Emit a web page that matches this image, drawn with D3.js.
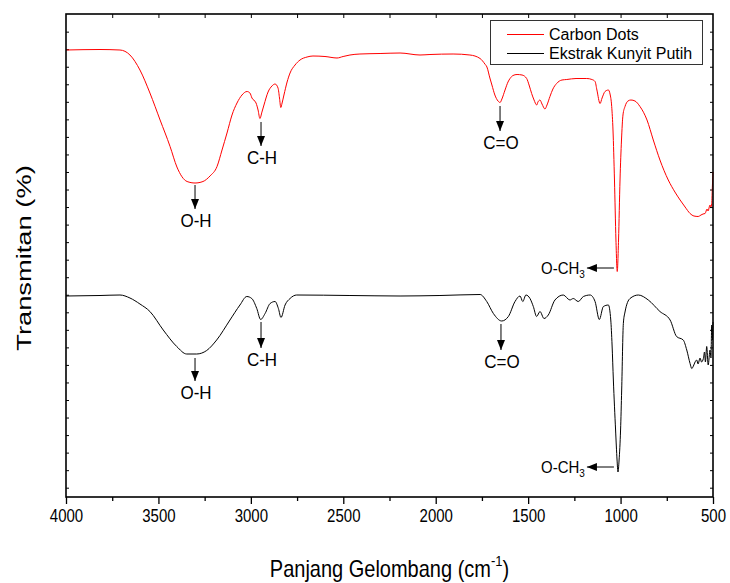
<!DOCTYPE html>
<html>
<head>
<meta charset="utf-8">
<script src="https://cdn.jsdelivr.net/npm/d3@7"></script>
<style>
  body { margin: 0; background: #fff; }
  text { font-family: Arial, "Liberation Sans", sans-serif; }
</style>
</head>
<body>
<div id="canvas"></div>
<script>
"use strict"

/* wavenumber (cm-1) of each sample, and transmittance (a.u., no scale printed) */
let carbonWave = [4000, 3816, 3708, 3654, 3600, 3546, 3491, 3437, 3400, 3345, 3302, 3259, 3221, 3183, 3156, 3129, 3102, 3075, 3048, 3021, 3005, 2994, 2972, 2961, 2951, 2940, 2929, 2907, 2886, 2869, 2853, 2845, 2838, 2831, 2821, 2804, 2788, 2761, 2734, 2696, 2664, 2599, 2534, 2501, 2464, 2410, 2301, 2193, 2085, 2031, 1906, 1815, 1760, 1734, 1723, 1707, 1696, 1680, 1663, 1652, 1642, 1625, 1609, 1598, 1582, 1560, 1533, 1508, 1495, 1481, 1468, 1454, 1447, 1436, 1425, 1409, 1398, 1382, 1366, 1346, 1317, 1291, 1241, 1183, 1155, 1138, 1128, 1111, 1100, 1084, 1066, 1057, 1048, 1041, 1033, 1025, 1018, 1011, 1003, 995, 987, 976, 960, 944, 922, 895, 857, 823, 787, 742, 706, 678, 651, 624, 603, 580, 565, 554, 543, 532, 527, 516, 511, 507, 503, 500];
let carbonT = [89.4, 89.5, 89.4, 88.4, 85.4, 80.8, 75.4, 70.1, 66.0, 63.1, 62.8, 63.1, 64.2, 66.1, 69.4, 72.8, 76.4, 78.8, 80.4, 81.1, 80.8, 79.8, 78.8, 77.4, 75.7, 77.0, 78.4, 81.0, 82.2, 82.6, 81.8, 79.8, 77.9, 78.8, 80.4, 83.0, 84.8, 86.4, 87.4, 88.0, 88.2, 88.1, 87.8, 88.1, 88.4, 88.6, 88.7, 88.8, 88.4, 88.5, 88.6, 88.4, 87.7, 86.6, 86.0, 83.8, 82.4, 80.4, 79.2, 78.9, 79.6, 81.4, 83.0, 83.7, 84.3, 84.5, 84.4, 83.7, 82.4, 80.7, 79.4, 78.4, 79.0, 79.4, 78.6, 77.6, 78.4, 80.1, 81.6, 82.7, 83.4, 83.5, 83.7, 83.7, 83.5, 83.1, 81.4, 78.7, 79.8, 81.1, 81.4, 80.6, 78.1, 73.4, 63.4, 51.4, 45.1, 51.4, 63.4, 71.4, 76.4, 78.1, 79.2, 79.4, 79.2, 78.1, 75.4, 71.4, 67.4, 63.4, 61.0, 59.4, 58.0, 56.7, 56.2, 56.1, 56.4, 56.6, 56.7, 57.6, 57.2, 58.4, 58.0, 58.7, 62.4, 65.0];

let ekstrakWave = [4000, 3816, 3708, 3654, 3600, 3546, 3474, 3401, 3347, 3293, 3239, 3185, 3113, 3059, 3022, 2995, 2968, 2947, 2923, 2896, 2869, 2851, 2837, 2815, 2788, 2752, 2464, 2193, 1977, 1760, 1724, 1688, 1643, 1607, 1571, 1544, 1529, 1512, 1490, 1472, 1454, 1436, 1414, 1391, 1355, 1310, 1274, 1256, 1229, 1201, 1165, 1138, 1115, 1093, 1066, 1053, 1046, 1039, 1027, 1019, 1014, 1008, 1000, 994, 985, 976, 949, 904, 850, 787, 732, 697, 661, 642, 624, 615, 606, 597, 588, 581, 570, 562, 552, 546, 541, 534, 526, 516, 511, 507, 503, 500];
let ekstrakT = [40.2, 40.3, 40.4, 39.8, 38.6, 37.1, 33.4, 30.1, 28.6, 28.6, 29.3, 31.4, 35.4, 38.4, 40.1, 39.7, 37.7, 35.5, 36.7, 38.7, 39.1, 37.7, 35.9, 38.4, 39.7, 40.4, 40.3, 40.2, 40.3, 40.5, 39.1, 36.7, 35.2, 36.1, 39.1, 40.2, 39.1, 40.4, 39.7, 38.1, 36.1, 37.1, 35.7, 36.4, 39.4, 40.4, 39.4, 39.7, 39.1, 40.1, 40.4, 39.1, 35.5, 38.1, 38.4, 35.4, 30.4, 23.4, 13.4, 7.4, 5.0, 7.4, 13.4, 21.4, 34.7, 37.0, 39.7, 40.4, 39.4, 37.1, 35.4, 32.1, 31.4, 29.4, 26.7, 25.7, 26.2, 27.0, 27.4, 26.6, 27.8, 27.0, 27.7, 29.0, 27.0, 30.1, 26.4, 29.4, 27.8, 34.4, 31.4, 35.0];

let xTickLabels = [4000, 3500, 3000, 2500, 2000, 1500, 1000, 500];
let seriesNames = ["Carbon Dots", "Ekstrak Kunyit Putih"];

/* band labels: vertical arrows (wave, from, to) and the O-CH3 arrows (from wave to wave) */
let bandNames = ["O-H", "C-H", "C=O"];
let bandWave = [[3302, 2945, 1652], [3302, 2945, 1647]];
let bandFrom = [[62.4, 75.0, 78.2], [27.8, 35.0, 34.6]];
let bandTo = [[57.6, 70.2, 73.2], [23.2, 29.8, 29.4]];
let methoxyLevel = [45.8, 6.0];
let methoxyWave = [1036, 1182];

let width = 730, height = 583;
let plotLeft = 66, plotRight = 713, plotTop = 14, plotBottom = 497;
let stretch = 1.17;   // the lettering in the original is a bit taller than it is wide

let drawing = d3.select("#canvas")
    .append("svg")
    .attr("width", width)
    .attr("height", height);

let xScale = d3.scaleLinear().domain([4000, 500]).range([plotLeft, plotRight]);
let yScale = d3.scaleLinear().domain([0, 96.6]).range([plotBottom, plotTop]);

/* arrow head */
drawing.append("defs").append("marker")
    .attr("id", "head")
    .attr("viewBox", "0 0 10 8")
    .attr("refX", 10)
    .attr("refY", 4)
    .attr("markerWidth", 10)
    .attr("markerHeight", 8)
    .attr("markerUnits", "userSpaceOnUse")
    .attr("orient", "auto")
    .append("path")
    .attr("d", "M0,0 L10,4 L0,8 Z")
    .attr("fill", "black");

/* y ticks have no labels, just inward marks on both sides */
let yTicks = d3.range(27).map(i => 1.86 + 3.508 * i);

drawing.append("g")
    .attr("transform", `translate(${plotLeft},0)`)
    .call(d3.axisRight(yScale).tickValues(yTicks).tickSize(3).tickFormat(""))
    .call(g => g.select(".domain").remove());

drawing.append("g")
    .attr("transform", `translate(${plotRight},0)`)
    .call(d3.axisLeft(yScale).tickValues(yTicks).tickSize(3).tickFormat(""))
    .call(g => g.select(".domain").remove());

/* top axis: inward ticks every 250 */
drawing.append("g")
    .attr("transform", `translate(0,${plotTop})`)
    .call(d3.axisBottom(xScale).tickValues(d3.range(3750, 500, -250)).tickSize(4).tickFormat(""))
    .call(g => g.select(".domain").remove());

/* bottom axis */
let xAxis = drawing.append("g")
    .attr("transform", `translate(0,${plotBottom})`)
    .call(d3.axisBottom(xScale).tickValues(xTickLabels).tickSize(7).tickFormat(d3.format("d")));
xAxis.select(".domain").remove();
xAxis.selectAll("text")
    .attr("y", 0)
    .attr("dy", "0.71em")
    .attr("transform", `translate(0,13) scale(1,${stretch})`)
    .attr("font-size", "15px")
    .attr("font-family", "Arial, 'Liberation Sans', sans-serif")
    .attr("fill", "black");
xAxis.selectAll("line").attr("stroke-width", 1.3);

drawing.append("g")
    .attr("transform", `translate(0,${plotBottom})`)
    .call(d3.axisBottom(xScale).tickValues(d3.range(3750, 500, -500)).tickSize(4).tickFormat(""))
    .call(g => g.select(".domain").remove())
    .selectAll("line").attr("stroke-width", 1.3);

/* the spectra */
let line = d3.line()
    .x(d => xScale(d[0]))
    .y(d => yScale(d[1]))
    .curve(d3.curveMonotoneX);

let carbonSpectrum = drawing.append("path")
    .datum(d3.zip(carbonWave, carbonT))
    .attr("d", line)
    .attr("fill", "none")
    .attr("stroke", "#ff0000")
    .attr("stroke-width", 1);

let ekstrakSpectrum = drawing.append("path")
    .datum(d3.zip(ekstrakWave, ekstrakT))
    .attr("d", line)
    .attr("fill", "none")
    .attr("stroke", "black")
    .attr("stroke-width", 1);

/* frame */
drawing.append("rect")
    .attr("x", plotLeft)
    .attr("y", plotTop)
    .attr("width", plotRight - plotLeft)
    .attr("height", plotBottom - plotTop)
    .attr("fill", "none")
    .attr("stroke", "black")
    .attr("stroke-width", 1.6);

/* band annotations */
bandWave.forEach((waves, s) => {
    waves.forEach((w, i) => {
        drawing.append("line")
            .attr("x1", xScale(w))
            .attr("y1", yScale(bandFrom[s][i]))
            .attr("x2", xScale(w))
            .attr("y2", yScale(bandTo[s][i]))
            .attr("stroke", "black")
            .attr("stroke-width", 1)
            .attr("marker-end", "url(#head)");
        drawing.append("text")
            .attr("transform", `translate(${xScale(w) + 1},${yScale(bandTo[s][i]) + 18}) scale(1,1.1)`)
            .attr("text-anchor", "middle")
            .attr("font-size", "17px")
            .text(bandNames[i]);
    });

    drawing.append("line")
        .attr("x1", xScale(methoxyWave[0]))
        .attr("y1", yScale(methoxyLevel[s]))
        .attr("x2", xScale(methoxyWave[1]))
        .attr("y2", yScale(methoxyLevel[s]))
        .attr("stroke", "black")
        .attr("stroke-width", 1)
        .attr("marker-end", "url(#head)");
    let methoxy = drawing.append("text")
        .attr("transform", `translate(${xScale(methoxyWave[1]) - 2},${yScale(methoxyLevel[s]) + 6}) scale(1,1.1)`)
        .attr("text-anchor", "end")
        .attr("font-size", "15px");
    methoxy.append("tspan").text("O-CH");
    methoxy.append("tspan").attr("font-size", "10px").attr("dy", 4).text("3");
});

/* legend */
let legend = drawing.append("g");
legend.append("rect")
    .attr("x", 490.5)
    .attr("y", 20.5)
    .attr("width", 212)
    .attr("height", 44)
    .attr("fill", "white")
    .attr("stroke", "#333")
    .attr("stroke-width", 1);
let legendColors = ["#ff0000", "black"];
seriesNames.forEach((name, i) => {
    legend.append("line")
        .attr("x1", 507)
        .attr("x2", 544)
        .attr("y1", 34.5 + i * 19)
        .attr("y2", 34.5 + i * 19)
        .attr("stroke", legendColors[i])
        .attr("stroke-width", 1);
    legend.append("text")
        .attr("x", 549)
        .attr("y", 40 + i * 19)
        .attr("font-size", "16px")
        .text(name);
});

/* axis titles */
let xTitle = drawing.append("text")
    .attr("transform", `translate(${(plotLeft + plotRight) / 2},577) scale(1,${stretch})`)
    .attr("text-anchor", "middle")
    .attr("font-size", "20px");
xTitle.append("tspan").text("Panjang Gelombang (cm");
xTitle.append("tspan").attr("font-size", "13px").attr("dy", -9).text("-1");
xTitle.append("tspan").attr("dy", 9).text(")");

drawing.append("text")
    .attr("transform", `translate(31,258) rotate(-90) scale(1.3,1)`)
    .attr("text-anchor", "middle")
    .attr("font-size", "21px")
    .text("Transmitan (%)");
</script>
</body>
</html>
